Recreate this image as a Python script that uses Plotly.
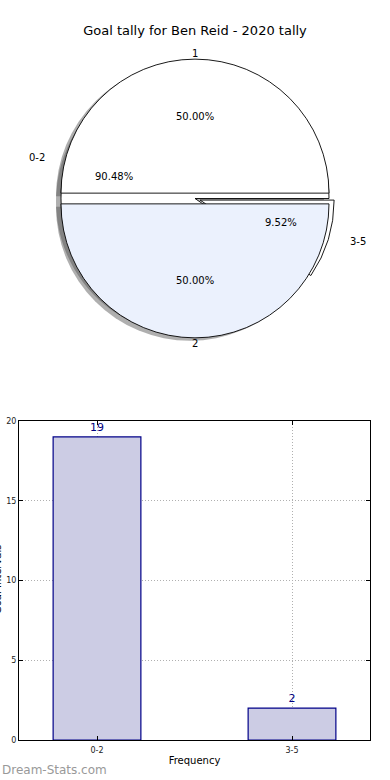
import math
import plotly.graph_objects as go

# ---------------- data ----------------
title_text = "Goal tally for Ben Reid - 2020 tally"
range_labels = ["0-2", "3-5"]
range_counts = [19, 2]
range_pcts = [90.48, 9.52]
half_labels = ["1", "2"]
half_pcts = [50.0, 50.0]
bar_x_title = "Frequency"
bar_y_title = "Goal Intervals"
watermark = "Dream-Stats.com"

# ---------------- layout constants ----------------
W, H = 390, 780
FONT = "DejaVu Sans"
CX, CY = 195, 198.5          # pie centre (px)
R = 134                      # pie radius (px)
PULL = 0.04
SIDE = 2 * R * (1 + PULL)    # pie domain side (px)
SHX, SHY = 5, 3              # shadow offset (px)


def dom(cx, cy):
    return dict(x=[(cx - SIDE / 2) / W, (cx + SIDE / 2) / W],
                y=[1 - (cy + SIDE / 2) / H, 1 - (cy - SIDE / 2) / H])


def mpl_rotation(vals):
    # matplotlib: first wedge starts at 3 o'clock and runs counter-clockwise
    return 90 - 360.0 * vals[0] / sum(vals)


fig = go.Figure()

range_pull = [0, PULL]
half_pull = [PULL, PULL]
common = dict(sort=False, direction="counterclockwise",
              textinfo="none", hoverinfo="label+percent", showlegend=False)

# shadows (drawn underneath every wedge, like matplotlib)
for vals, pull in ((range_pcts, range_pull), (half_pcts, half_pull)):
    fig.add_trace(go.Pie(values=vals, labels=["s%d" % i for i in range(len(vals))],
                         pull=pull, domain=dom(CX - SHX, CY + SHY),
                         rotation=mpl_rotation(vals),
                         marker=dict(colors=["rgba(77,77,77,0.45)"] * len(vals),
                                     line=dict(width=0)), **common))

fig.add_trace(go.Pie(values=range_pcts, labels=range_labels, pull=range_pull,
                     domain=dom(CX, CY), rotation=mpl_rotation(range_pcts),
                     marker=dict(colors=["#ffffff", "#ffffff"],
                                 line=dict(color="#000000", width=0.9)), **common))
fig.add_trace(go.Pie(values=half_pcts, labels=half_labels, pull=half_pull,
                     domain=dom(CX, CY), rotation=mpl_rotation(half_pcts),
                     marker=dict(colors=["#ffffff", "#ebf1fd"],
                                 line=dict(color="#000000", width=0.9)), **common))

# pie label annotations (matplotlib style: labels at 1.1 r, pct at 0.6 r)
RX, RY = 141, 127
ann = []


def pie_ann(values, labels, pulls):
    total = sum(values)
    start = 0.0
    for v, lab, p in zip(values, labels, pulls):
        frac = v / total
        mid = math.radians(360 * (start + frac / 2))
        start += frac
        dx, dy = math.cos(mid), math.sin(mid)
        off = p * R
        lx = CX + dx * (1.1 * RX + off)
        ly = CY - dy * (1.1 * RY + off)
        px = CX + dx * (0.6 * RX + off)
        py = CY - dy * (0.6 * RY + off)
        xa = "left" if dx > 0.01 else ("right" if dx < -0.01 else "center")
        ann.append(dict(x=lx / W, y=1 - ly / H, xref="paper", yref="paper",
                        text=lab, showarrow=False, xanchor=xa, yanchor="middle",
                        font=dict(family=FONT, size=10, color="#000")))
        ann.append(dict(x=px / W, y=1 - py / H, xref="paper", yref="paper",
                        text="%.2f%%" % v, showarrow=False, xanchor="center",
                        yanchor="middle", font=dict(family=FONT, size=10, color="#000")))


pie_ann(range_pcts, range_labels, range_pull)
pie_ann(half_pcts, half_labels, half_pull)

# ---------------- bar chart ----------------
fig.add_trace(go.Bar(x=range_labels, y=range_counts, width=0.45,
                     marker=dict(color="#ccccE4", line=dict(color="#000088", width=1.2)),
                     text=[str(v) for v in range_counts], textposition="outside",
                     textfont=dict(family=FONT, size=11, color="#000080"),
                     cliponaxis=False, showlegend=False, xaxis="x", yaxis="y"))

axis_common = dict(showline=True, linecolor="#000", linewidth=1, mirror="ticks",
                   ticks="inside", ticklen=4, tickcolor="#000",
                   showgrid=True, gridcolor="#b0b0b0", griddash="1px,2px", gridwidth=1,
                   zeroline=False, automargin=False,
                   tickfont=dict(family=FONT, size=8, color="#222"))

fig.update_layout(
    width=W, height=H,
    margin=dict(l=0, r=0, t=0, b=0),
    paper_bgcolor="#ffffff", plot_bgcolor="#ffffff",
    font=dict(family=FONT, color="#000"),
    title=dict(text=title_text, x=0.5, xanchor="center", y=1 - 30 / H, yanchor="middle",
               font=dict(family=FONT, size=13, color="#000")),
    xaxis=dict(domain=[19 / W, 370 / W], anchor="y", type="category",
               range=[-0.4, 1.4], ticklabelstandoff=2,
               title=dict(text=bar_x_title, standoff=3,
                          font=dict(family=FONT, size=10, color="#000")),
               **axis_common),
    yaxis=dict(domain=[1 - 740 / H, 1 - 421 / H], anchor="x", range=[0, 20],
               tickvals=[0, 5, 10, 15, 20], **axis_common),
    annotations=ann + [
        dict(x=-3 / W, y=1 - 580 / H, xref="paper", yref="paper", text=bar_y_title,
             textangle=-90, showarrow=False, xanchor="center", yanchor="middle",
             font=dict(family=FONT, size=10, color="#000")),
        dict(x=0, y=1 - 770 / H, xref="paper", yref="paper", text=watermark,
             showarrow=False, xanchor="left", yanchor="middle",
             font=dict(family=FONT, size=12, color="#999999")),
    ],
)

fig.write_html("out.html", config={"displayModeBar": False},
               post_script="document.body.style.margin='0';")
